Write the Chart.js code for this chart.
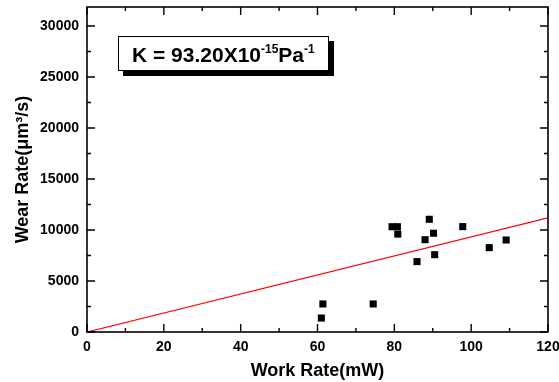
<!DOCTYPE html>
<html>
<head>
<meta charset="utf-8">
<script src="https://cdn.jsdelivr.net/npm/chart.js@4.4.1/dist/chart.umd.min.js"></script>
<style>
  html, body { margin: 0; padding: 0; background: #fff; }
  #wrap { position: relative; width: 559px; height: 382px; }
  #note {
    position: absolute; left: 118px; top: 36px; width: 209px; height: 33px;
    border: 1.5px solid #000; background: #fff; box-shadow: 5px 5px 0 #000;
    font-family: "Liberation Sans", Arial, sans-serif; font-weight: bold; font-size: 21px;
    line-height: 33px; box-sizing: content-box; padding-left: 0; white-space: nowrap;
  }
  #note span.t { position: absolute; left: 13px; top: 1px; }
  #note sup { font-size: 12px; vertical-align: 0; position: relative; top: -9px; }
</style>
</head>
<body>
<div id="wrap">
  <canvas id="c" width="559" height="382"></canvas>
  <div id="note"><span class="t">K = 93.20X10<sup>-15</sup>Pa<sup>-1</sup></span></div>
</div>
<script>
const workRate = [61.4, 61.0, 74.5, 79.4, 80.8, 80.9, 85.9, 88.0, 89.1, 90.2, 90.5, 97.8, 104.7, 109.1];
const wearRate = [2750, 1370, 2750, 10320, 10320, 9600, 6900, 9050, 11050, 9680, 7580, 10330, 8270, 9020];
const fitX = [0, 120];
const fitY = [0, 11184];
const xTicks = [0, 20, 40, 60, 80, 100, 120];
const yTicks = [0, 5000, 10000, 15000, 20000, 25000, 30000];

const FONT = "'Liberation Sans', Arial, sans-serif";

const frame = {
  id: 'frame',
  afterDraw(chart) {
    const ctx = chart.ctx, a = chart.chartArea;
    const xs = chart.scales.x, ys = chart.scales.y;
    ctx.save();
    ctx.strokeStyle = '#000';
    ctx.lineWidth = 1.6;
    ctx.strokeRect(a.left, a.top, a.right - a.left, a.bottom - a.top);
    ctx.lineWidth = 1.4;
    ctx.beginPath();
    for (let v = 0; v <= 120; v += 10) {
      const px = xs.getPixelForValue(v);
      const len = (v % 20 === 0) ? 8 : 4;
      ctx.moveTo(px, a.bottom); ctx.lineTo(px, a.bottom - len);
      ctx.moveTo(px, a.top); ctx.lineTo(px, a.top + len);
    }
    for (let v = 0; v <= 30000; v += 2500) {
      const py = ys.getPixelForValue(v);
      const len = (v % 5000 === 0) ? 8 : 4;
      ctx.moveTo(a.left, py); ctx.lineTo(a.left + len, py);
      ctx.moveTo(a.right, py); ctx.lineTo(a.right - len, py);
    }
    ctx.stroke();
    ctx.restore();
  }
};

new Chart(document.getElementById('c'), {
  type: 'scatter',
  data: {
    datasets: [
      {
        label: 'fit',
        type: 'line',
        data: fitX.map((x, i) => ({ x, y: fitY[i] })),
        borderColor: '#ff0000',
        borderWidth: 1.2,
        pointRadius: 0,
        fill: false,
        order: 2
      },
      {
        label: 'data',
        data: workRate.map((x, i) => ({ x, y: wearRate[i] })),
        pointStyle: 'rect',
        pointRadius: 5,
        backgroundColor: '#000',
        borderColor: '#000',
        borderWidth: 0,
        order: 1
      }
    ]
  },
  options: {
    responsive: false,
    animation: false,
    events: [],
    layout: { padding: { left: 0, right: 11, top: 7, bottom: 0 } },
    plugins: { legend: { display: false }, tooltip: { enabled: false } },
    scales: {
      x: {
        type: 'linear', min: 0, max: 120,
        afterBuildTicks: s => { s.ticks = xTicks.map(v => ({ value: v })); },
        afterFit: s => { s.height = 50; s.paddingRight = 0; s.paddingLeft = 0; },
        grid: { display: false, drawTicks: false },
        border: { display: false },
        ticks: { color: '#000', font: { family: FONT, size: 14, weight: 'bold' }, padding: 7, maxRotation: 0, callback: v => String(v) },
        title: { display: true, text: 'Work Rate(mW)', color: '#000', font: { family: FONT, size: 18, weight: 'bold' }, padding: { top: 2, bottom: 0 } }
      },
      y: {
        type: 'linear', min: 0, max: 31860,
        afterBuildTicks: s => { s.ticks = yTicks.map(v => ({ value: v })); },
        afterFit: s => { s.width = 87; s.paddingTop = 0; s.paddingBottom = 0; },
        grid: { display: false, drawTicks: false },
        border: { display: false },
        ticks: { color: '#000', font: { family: FONT, size: 14, weight: 'bold' }, padding: 8, callback: v => String(v) },
        title: { display: true, text: 'Wear Rate(μm³/s)', color: '#000', font: { family: FONT, size: 18, weight: 'bold' }, padding: { top: 12, bottom: 4 } }
      }
    }
  },
  plugins: [frame]
});
</script>
</body>
</html>
